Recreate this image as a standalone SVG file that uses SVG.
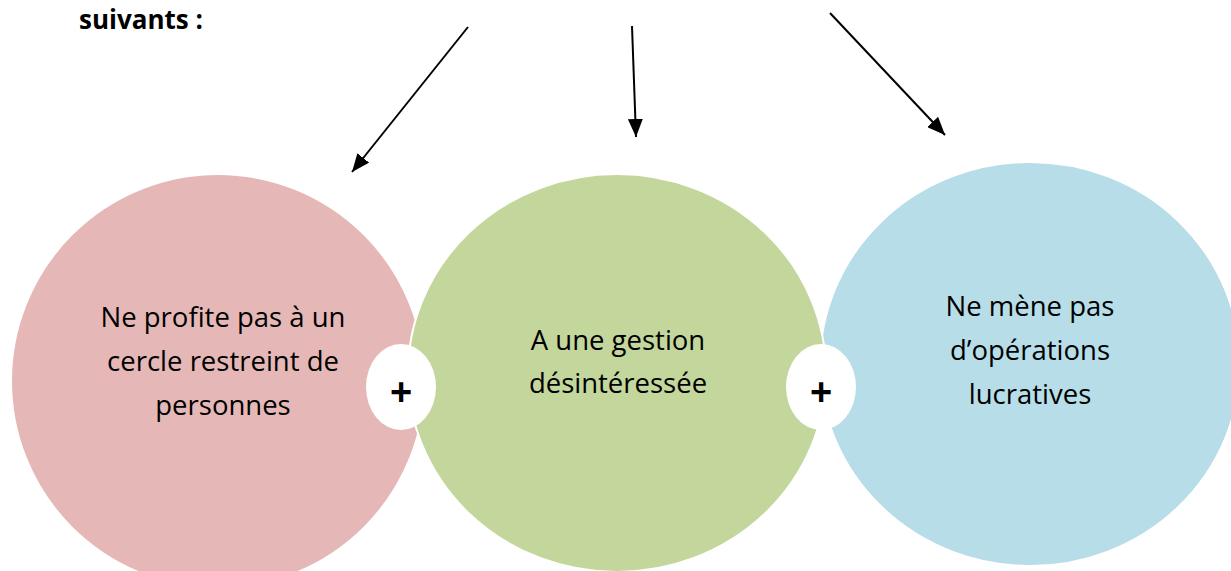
<svg xmlns="http://www.w3.org/2000/svg" width="1231" height="571" viewBox="0 0 1231 571">
<style>
.lbl{font-family:"Open Sans","Liberation Sans",sans-serif;font-size:27.5px;fill:#000;text-anchor:middle}
.plus{font-family:"Liberation Sans",sans-serif;font-size:38px;font-weight:bold;fill:#000;text-anchor:middle}
.circ{stroke:#fff;stroke-width:2}
.arr{stroke:#000;stroke-width:2;fill:none;marker-end:url(#ah)}
</style>
<defs>
<marker id="ah" refX="18" refY="7.5" markerWidth="18" markerHeight="15" markerUnits="userSpaceOnUse" orient="auto">
<path d="M0,0 L18,7.5 L0,15 z" fill="#000"/>
</marker>
</defs>
<rect width="1231" height="571" fill="#fff"/>
<text x="79" y="29" font-family="'Open Sans','Liberation Sans',sans-serif" font-size="26" font-weight="bold">suivants :</text>
<g id="connectors">
<line class="arr" x1="468" y1="27" x2="352" y2="172"/>
<line class="arr" x1="632" y1="26" x2="636" y2="137"/>
<line class="arr" x1="830" y1="13" x2="945" y2="135"/>
</g>
<g id="node-pink">
<ellipse class="circ" cx="218" cy="381" rx="207" ry="207" fill="#E5B8B7"/>
<text class="lbl" x="223" y="327">Ne profite pas à un</text>
<text class="lbl" x="223" y="371">cercle restreint de</text>
<text class="lbl" x="223" y="415">personnes</text>
</g>
<g id="node-blue">
<ellipse class="circ" cx="1030" cy="364" rx="210" ry="202" fill="#B7DDE8"/>
<text class="lbl" x="1030" y="316">Ne mène pas</text>
<text class="lbl" x="1030" y="360">d’opérations</text>
<text class="lbl" x="1030" y="404">lucratives</text>
</g>
<g id="node-green">
<ellipse class="circ" cx="617" cy="373" rx="209" ry="199" fill="#C3D69B"/>
<text class="lbl" x="618" y="350">A une gestion</text>
<text class="lbl" x="618" y="393">désintéressée</text>
</g>
<g id="plus1">
<ellipse cx="401" cy="387" rx="35" ry="43" fill="#fff"/>
<text class="plus" x="401" y="405">+</text>
</g>
<g id="plus2">
<ellipse cx="821" cy="387" rx="35" ry="43" fill="#fff"/>
<text class="plus" x="821" y="405">+</text>
</g>
</svg>
